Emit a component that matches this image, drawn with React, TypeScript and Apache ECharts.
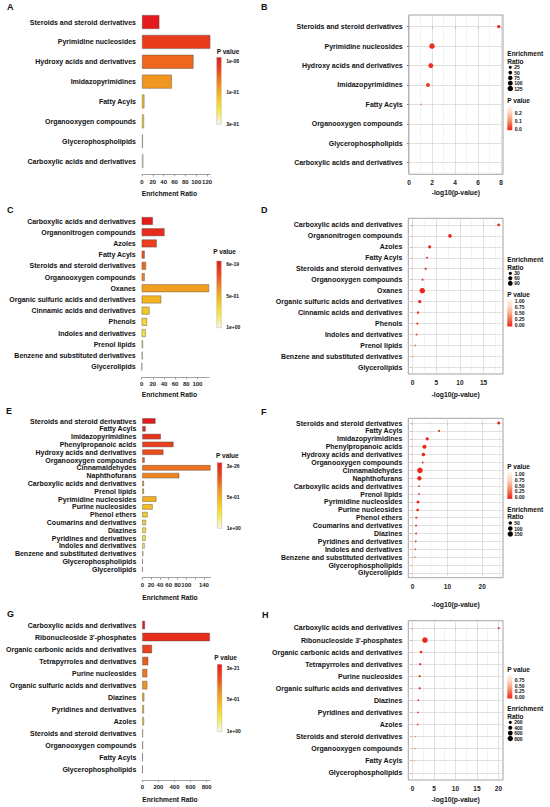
import React, { useEffect, useRef } from "react";
import * as echarts from "echarts";

// ---------- DATA ----------
const catsAB = [
  "Steroids and steroid derivatives",
  "Pyrimidine nucleosides",
  "Hydroxy acids and derivatives",
  "Imidazopyrimidines",
  "Fatty Acyls",
  "Organooxygen compounds",
  "Glycerophospholipids",
  "Carboxylic acids and derivatives",
];
const ratioAB = [32, 126, 95, 55, 4.4, 3.7, 1.5, 2.5];
const logpAB = [7.8, 2.0, 1.9, 1.65, 1.05, 0.4, 0.35, 0.35];

const catsCD = [
  "Carboxylic acids and derivatives",
  "Organonitrogen compounds",
  "Azoles",
  "Fatty Acyls",
  "Steroids and steroid derivatives",
  "Organooxygen compounds",
  "Oxanes",
  "Organic sulfuric acids and derivatives",
  "Cinnamic acids and derivatives",
  "Phenols",
  "Indoles and derivatives",
  "Prenol lipids",
  "Benzene and substituted derivatives",
  "Glycerolipids",
];
const ratioCD = [20, 41, 27, 5.4, 7.8, 5.4, 121, 35, 14, 9.6, 7.2, 2.4, 1.8, 0.6];
const logpCD = [18.2, 7.9, 3.6, 3.05, 2.75, 2.1, 2.05, 1.5, 1.15, 1.0, 0.85, 0.57, 0.23, 0];

const catsEF = [
  "Steroids and steroid derivatives",
  "Fatty Acyls",
  "Imidazopyrimidines",
  "Phenylpropanoic acids",
  "Hydroxy acids and derivatives",
  "Organooxygen compounds",
  "Cinnamaldehydes",
  "Naphthofurans",
  "Carboxylic acids and derivatives",
  "Prenol lipids",
  "Pyrimidine nucleosides",
  "Purine nucleosides",
  "Phenol ethers",
  "Coumarins and derivatives",
  "Diazines",
  "Pyridines and derivatives",
  "Indoles and derivatives",
  "Benzene and substituted derivatives",
  "Glycerophospholipids",
  "Glycerolipids",
];
const ratioEF = [30, 7.6, 42, 71, 48, 5.3, 155, 84, 3.8, 3.8, 32, 23.5, 12, 8.3, 8.3, 7.6, 5.3, 2.3, 0.8, 0.8];
const logpEF = [24.75, 7.6, 4.2, 3.4, 3.1, 2.9, 2.1, 1.95, 1.85, 1.85, 1.55, 1.45, 1.07, 0.97, 0.97, 0.88, 0.78, 0.6, 0.1, 0];

const catsGH = [
  "Carboxylic acids and derivatives",
  "Ribonucleoside 3'-phosphates",
  "Organic carbonic acids and derivatives",
  "Tetrapyrroles and derivatives",
  "Purine nucleosides",
  "Organic sulfuric acids and derivatives",
  "Diazines",
  "Pyridines and derivatives",
  "Azoles",
  "Steroids and steroid derivatives",
  "Organooxygen compounds",
  "Fatty Acyls",
  "Glycerophospholipids",
];
const ratioGH = [33, 840, 120, 74, 62, 62, 25, 21, 21, 8, 8, 6, 4];
const logpGH = [20.05, 2.9, 2.0, 1.8, 1.67, 1.67, 1.35, 1.28, 1.2, 0.65, 0.58, 0.42, 0.03];

// bar axis ticks / labels
const ticksA = [0, 20, 40, 60, 80, 100, 120];
const ticksC = [0, 20, 40, 60, 80, 100];
const ticksE = [0, 20, 40, 60, 80, 100, 120, 140];
const labelsE = [0, 20, 40, 60, 80, 100, 140];
const ticksG = [0, 200, 400, 600, 800];

// dot axis ticks
const ticksB = [0, 2, 4, 6, 8];
const minorB = [1, 3, 5, 7];
const ticksD = [0, 5, 10, 15];
const minorD = [2.5, 7.5, 12.5, 17.5];
const ticksF = [0, 10, 20];
const minorF = [5, 15, 25];
const ticksH = [0, 5, 10, 15, 20];
const minorH = [2.5, 7.5, 12.5, 17.5];

// legends
const barLegA = ["1e-08", "1e-01", "3e-01"];
const barLegC = ["6e-19", "5e-01", "1e+00"];
const barLegE = ["3e-26", "5e-01", "1e+00"];
const barLegG = ["3e-21", "5e-01", "1e+00"];

const sizeLegB = [25, 50, 75, 100, 125];
const sizeLegD = [30, 60, 90];
const sizeLegF = [50, 100, 150];
const sizeLegH = [200, 400, 600, 800];

const pLegB = [0.2, 0.1, 0.0];
const pLegD = [1.0, 0.75, 0.5, 0.25, 0.0];
const pLegF = [1.0, 0.75, 0.5, 0.25, 0.0];
const pLegH = [0.75, 0.5, 0.25, 0.0];
const pMaxB = 0.27;
const pMaxD = 1;
const pMaxF = 1;
const pMaxH = 0.93;

// ---------- STYLE ----------
const FONT = "Liberation Sans, Arial, Helvetica, sans-serif";
const BAR_COLORS = ["#e41a1c", "#ea4a1d", "#f08e1f", "#f5c422", "#f3e84a", "#f7f7ea"];
const DOT_COLORS = ["#ee2418", "#f46a4a", "#f9a98a", "#fdd9c4", "#fff6ea"];

function buildOption() {
  const grids: any[] = [];
  const xAxes: any[] = [];
  const yAxes: any[] = [];
  const series: any[] = [];
  const visualMaps: any[] = [];
  const graphics: any[] = [];

  const txt = (x: number, y: number, text: string, size: number, align = "left", weight = "bold", fill = "#111") => ({
    type: "text",
    x,
    y,
    silent: true,
    style: {
      text,
      fontSize: size,
      fontWeight: weight,
      fontFamily: FONT,
      fill,
      textAlign: align,
      textVerticalAlign: "middle",
      align,
      verticalAlign: "middle",
    },
  });

  function addBar(cats: string[], ratios: number[], ticks: number[], labels: number[], g: any, offset: number) {
    const gi = grids.length;
    grids.push({ left: g.left, top: g.top, width: g.width, height: g.height });
    const xi = xAxes.length;
    xAxes.push({
      type: "value",
      gridIndex: gi,
      min: 0,
      max: Math.max(...ratios),
      offset,
      axisLine: { show: true, lineStyle: { color: "#8a8a8a", width: 0.8 } },
      axisTick: { show: true, length: 2, customValues: ticks, lineStyle: { color: "#8a8a8a", width: 0.8 } },
      axisLabel: { customValues: labels, fontSize: 6, fontWeight: "bold", color: "#222", margin: 4, fontFamily: FONT },
      splitLine: { show: false },
    });
    const yi = yAxes.length;
    yAxes.push({
      type: "category",
      gridIndex: gi,
      data: cats,
      inverse: true,
      axisLine: { show: false },
      axisTick: { show: false },
      axisLabel: { interval: 0, fontSize: 7, fontWeight: "bold", color: "#111", margin: 6, fontFamily: FONT },
      splitLine: { show: false },
    });
    const si = series.length;
    series.push({
      type: "bar",
      xAxisIndex: xi,
      yAxisIndex: yi,
      barWidth: "70%",
      silent: true,
      encode: { x: 0, y: 1 },
      data: ratios.map((v, i) => [v, cats[i], i]),
      itemStyle: { borderColor: "rgba(70,70,70,0.8)", borderWidth: 0.5 },
    });
    visualMaps.push({
      type: "continuous",
      show: false,
      seriesIndex: si,
      dimension: 2,
      min: 0,
      max: cats.length - 1,
      inRange: { color: BAR_COLORS },
    });
  }

  function addBarLegend(x: number, titleX: number, titleY: number, top: number, h: number, labels: string[]) {
    graphics.push(txt(titleX, titleY, "P value", 6.5));
    graphics.push({
      type: "rect",
      silent: true,
      shape: { x, y: top, width: 4.6, height: h },
      style: {
        fill: new echarts.graphic.LinearGradient(0, 0, 0, 1, BAR_COLORS.map((c, i) => ({ offset: i / (BAR_COLORS.length - 1), color: c }))),
        stroke: "#aaa",
        lineWidth: 0.4,
      },
    });
    const fr = [0.05, 0.52, 0.99];
    labels.forEach((l, i) => graphics.push(txt(x + 9.5, top + fr[i] * h, l, 5)));
  }

  function addDot(
    cats: string[],
    ratios: number[],
    logp: number[],
    ticks: number[],
    minor: number[],
    g: any,
    pMax: number,
    titleY: number,
    legend: { sizeVals: number[]; pVals: number[]; pFmt: (v: number) => string; sizeFirst: boolean; y0: number; y1: number; barH: number; dy: number }
  ) {
    const gi = grids.length;
    grids.push({ left: g.left, top: g.top, width: g.width, height: g.height, show: true, borderColor: "#8c8c8c", borderWidth: 0.8, backgroundColor: "transparent" });
    const lo = Math.min(...logp);
    const hi = Math.max(...logp);
    const pad = 0.05 * (hi - lo);
    const xMin = lo - pad;
    const xMax = hi + pad;
    const xi = xAxes.length;
    xAxes.push({
      type: "value",
      gridIndex: gi,
      min: xMin,
      max: xMax,
      axisLine: { show: false },
      axisTick: { show: true, length: 2, customValues: ticks, lineStyle: { color: "#333", width: 0.6 } },
      axisLabel: { customValues: ticks, fontSize: 6.5, fontWeight: "bold", color: "#222", margin: 5, fontFamily: FONT },
      splitLine: { show: false },
    });
    const idx = cats.map((_, i) => i);
    const yi = yAxes.length;
    yAxes.push({
      type: "value",
      gridIndex: gi,
      min: -0.6,
      max: cats.length - 0.4,
      inverse: true,
      axisLine: { show: false },
      axisTick: { show: true, length: 2, customValues: idx, lineStyle: { color: "#333", width: 0.6 } },
      axisLabel: {
        customValues: idx,
        formatter: (v: number) => cats[Math.round(v)] ?? "",
        fontSize: 7,
        fontWeight: "bold",
        color: "#111",
        margin: 6,
        fontFamily: FONT,
      },
      splitLine: { show: false },
    });

    // grid lines (ggplot theme_bw style) drawn as mark lines at axis values
    const major = { color: "#d4d4d4", width: 0.7, type: "solid", opacity: 1 };
    const minorStyle = { color: "#e8e8e8", width: 0.5, type: "solid", opacity: 1 };
    series.push({
      type: "line",
      xAxisIndex: xi,
      yAxisIndex: yi,
      data: [[xMin, -0.6]],
      showSymbol: false,
      symbolSize: 0,
      lineStyle: { opacity: 0 },
      silent: true,
      z: 1,
      markLine: {
        silent: true,
        animation: false,
        symbol: ["none", "none"],
        label: { show: false },
        lineStyle: { color: "#d4d4d4", width: 0.7, type: "solid", opacity: 1 },
        emphasis: { disabled: true },
        data: [
          ...minor.filter((v) => v > xMin && v < xMax).map((v) => ({ xAxis: v, lineStyle: minorStyle })),
          ...ticks.filter((v) => v > xMin && v < xMax).map((v) => ({ xAxis: v, lineStyle: major })),
          ...idx.map((i) => ({ yAxis: i, lineStyle: major })),
        ],
      },
    });

    const rmin = Math.min(...ratios);
    const rmax = Math.max(...ratios);
    const sizeFn = (v: number) => 1 + 4.5 * Math.sqrt(Math.max(0, Math.min(1, (v - rmin) / (rmax - rmin))));
    const si = series.length;
    series.push({
      type: "scatter",
      xAxisIndex: xi,
      yAxisIndex: yi,
      silent: true,
      z: 6,
      encode: { x: 0, y: 1 },
      data: cats.map((c, i) => [logp[i], i, ratios[i], Math.pow(10, -logp[i])]),
      symbolSize: (d: number[]) => sizeFn(d[2]),
      itemStyle: { opacity: 1 },
    });
    visualMaps.push({
      type: "continuous",
      show: false,
      seriesIndex: si,
      dimension: 3,
      min: 0,
      max: pMax,
      inRange: { color: DOT_COLORS },
      outOfRange: { color: DOT_COLORS[DOT_COLORS.length - 1] },
    });

    // title
    graphics.push(txt(g.left + g.width / 2, titleY, "-log10(p-value)", 6.8, "center"));

    // legends
    const lx = 507.3;
    const drawSize = (y: number) => {
      graphics.push(txt(lx, y, "Enrichment", 6.5));
      graphics.push(txt(lx, y + 7.8, "Ratio", 6.5));
      legend.sizeVals.forEach((v, i) => {
        const cy = y + 14 + i * legend.dy;
        graphics.push({ type: "circle", silent: true, shape: { cx: lx + 3, cy, r: sizeFn(v) / 2 }, style: { fill: "#000" } });
        graphics.push(txt(lx + 7, cy, String(v), 5));
      });
    };
    const drawP = (y: number) => {
      graphics.push(txt(lx, y, "P value", 6.5));
      const top = y + 5.5;
      const h = legend.barH;
      const rev = [...DOT_COLORS].reverse();
      graphics.push({
        type: "rect",
        silent: true,
        shape: { x: lx, y: top, width: 5, height: h },
        style: { fill: new echarts.graphic.LinearGradient(0, 0, 0, 1, rev.map((c, i) => ({ offset: i / (rev.length - 1), color: c }))) },
      });
      legend.pVals.forEach((v) => {
        graphics.push(txt(lx + 7.5, top + 1.5 + (1 - v / pMax) * (h - 3), legend.pFmt(v), 5));
      });
    };
    if (legend.sizeFirst) {
      drawSize(legend.y0);
      drawP(legend.y1);
    } else {
      drawP(legend.y0);
      drawSize(legend.y1);
    }
  }

  // Panel letters
  [
    ["A", 7, 7],
    ["B", 261, 7],
    ["C", 7, 210],
    ["D", 261, 210],
    ["E", 6, 411],
    ["F", 261, 412],
    ["G", 7, 614],
    ["H", 262, 615],
  ].forEach(([t, x, y]) => graphics.push(txt(x as number, y as number, t as string, 9)));

  // Bars
  addBar(catsAB, ratioAB, ticksA, ticksA, { left: 142, top: 12.1, width: 68.3, height: 158.9 }, 3.5);
  addBarLegend(216.7, 216.7, 51.7, 57.3, 67, barLegA);
  graphics.push(txt(141.7, 193, "Enrichment Ratio", 6.7));

  addBar(catsCD, ratioCD, ticksC, ticksC, { left: 141.7, top: 215.4, width: 67.4, height: 156.9 }, 5);
  addBarLegend(216.7, 213.3, 251, 261, 66.7, barLegC);
  graphics.push(txt(141.7, 394.3, "Enrichment Ratio", 6.7));

  addBar(catsEF, ratioEF, ticksE, labelsE, { left: 142.3, top: 417.1, width: 68.2, height: 156.1 }, 4.5);
  addBarLegend(217.3, 216, 455, 462.7, 65.6, barLegE);
  graphics.push(txt(142.3, 597, "Enrichment Ratio", 6.7));

  addBar(catsGH, ratioGH, ticksG, ticksG, { left: 142.3, top: 619, width: 67.6, height: 156.3 }, 4.7);
  addBarLegend(217.3, 214.3, 657.3, 664.3, 67.4, barLegG);
  graphics.push(txt(142.3, 799.3, "Enrichment Ratio", 6.7));

  // Dots
  addDot(catsAB, ratioAB, logpAB, ticksB, minorB, { left: 408.7, top: 15, width: 94.3, height: 159.3 }, pMaxB, 192.7, {
    sizeVals: sizeLegB, pVals: pLegB, pFmt: (v) => v.toFixed(1), sizeFirst: true, y0: 53.3, y1: 100.7, barH: 24, dy: 5.3,
  });
  addDot(catsCD, ratioCD, logpCD, ticksD, minorD, { left: 408.3, top: 218.3, width: 94.7, height: 155.7 }, pMaxD, 394.3, {
    sizeVals: sizeLegD, pVals: pLegD, pFmt: (v) => v.toFixed(2), sizeFirst: true, y0: 259.3, y1: 294.3, barH: 26.7, dy: 5,
  });
  addDot(catsEF, ratioEF, logpEF, ticksF, minorF, { left: 408.3, top: 418.3, width: 94.7, height: 159.4 }, pMaxF, 604.3, {
    sizeVals: sizeLegF, pVals: pLegF, pFmt: (v) => v.toFixed(2), sizeFirst: false, y0: 466.7, y1: 509, barH: 26.7, dy: 5.5,
  });
  addDot(catsGH, ratioGH, logpGH, ticksH, minorH, { left: 408.3, top: 620.7, width: 94.7, height: 159.3 }, pMaxH, 799.3, {
    sizeVals: sizeLegH, pVals: pLegH, pFmt: (v) => v.toFixed(2), sizeFirst: false, y0: 669, y1: 708.3, barH: 24, dy: 5.4,
  });

  return {
    animation: false,
    backgroundColor: "#ffffff",
    textStyle: { fontFamily: FONT },
    grid: grids,
    xAxis: xAxes,
    yAxis: yAxes,
    series,
    visualMap: visualMaps,
    graphic: { elements: graphics },
  };
}

export default function App() {
  const ref = useRef<HTMLDivElement>(null);
  useEffect(() => {
    if (!ref.current) return;
    const chart = echarts.init(ref.current, null, { renderer: "svg", width: 550, height: 807 });
    chart.setOption(buildOption() as any);
    return () => chart.dispose();
  }, []);
  return (
    <div
      ref={ref}
      style={{ position: "absolute", left: 0, top: 0, width: 550, height: 807, background: "#fff" }}
    />
  );
}
